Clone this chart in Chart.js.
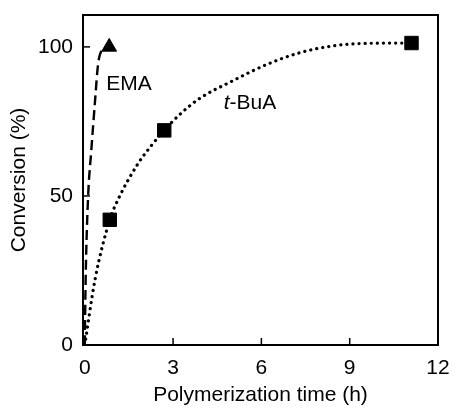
<!DOCTYPE html>
<html><head><meta charset="utf-8">
<script src="https://cdn.jsdelivr.net/npm/chart.js@4/dist/chart.umd.min.js"></script>
<style>html,body{margin:0;padding:0;background:#fff}#wrap{width:457px;height:412px}</style>
</head><body><div id="wrap"><canvas id="c"></canvas></div>
<script>
// Data
const xTicks = [0, 3, 6, 9, 12];
const yTicks = [0, 50, 100];
const emaTime = [0.83];
const emaConv = [100];
const emaCurveTime = [0, 0.03, 0.11, 0.22, 0.35, 0.45, 0.56, 0.83];
const emaCurveConv = [0, 22, 49, 65, 82, 94, 98.5, 100];
const buaTime = [0.85, 2.7, 11.1];
const buaConv = [42, 72, 101.3];
const buaCurveTime = [0, 0.35, 0.85, 1.14, 1.82, 2.27, 2.7, 3.19, 3.87, 5.0, 6.16, 7.29, 8.41, 9.57, 11.1];
const buaCurveConv = [0, 22, 42, 49, 61, 67, 72, 77, 82.5, 88.5, 94, 98, 100.3, 101.2, 101.3];
const seriesLabels = ['EMA', 't-BuA'];

const pts = (xs, ys) => xs.map((x, i) => ({x, y: ys[i]}));
const FONT = 'Liberation Sans, Arial, sans-serif';
const FS = 21;

const framePlugin = {
  id: 'frame',
  afterDraw(chart) {
    const {ctx, chartArea: a, scales} = chart;
    ctx.save();
    ctx.strokeStyle = '#000';
    ctx.lineWidth = 2;
    ctx.strokeRect(a.left, a.top, a.right - a.left, a.bottom - a.top);
    ctx.lineWidth = 1.5;
    xTicks.forEach(v => {
      const px = scales.x.getPixelForValue(v);
      if (px > a.left + 3 && px < a.right - 3) {
        ctx.beginPath(); ctx.moveTo(px, a.bottom); ctx.lineTo(px, a.bottom - 7); ctx.stroke();
      }
    });
    yTicks.forEach(v => {
      const py = scales.y.getPixelForValue(v);
      if (py < a.bottom - 3) {
        ctx.beginPath(); ctx.moveTo(a.left, py); ctx.lineTo(a.left + 7, py); ctx.stroke();
      }
    });
    // series labels
    ctx.fillStyle = '#000';
    ctx.textBaseline = 'middle';
    ctx.textAlign = 'left';
    ctx.font = FS + 'px ' + FONT;
    ctx.fillText(seriesLabels[0], scales.x.getPixelForValue(0.73), scales.y.getPixelForValue(87.4));
    const x0 = scales.x.getPixelForValue(4.72), y0 = scales.y.getPixelForValue(81);
    ctx.font = 'italic ' + FS + 'px ' + FONT;
    ctx.fillText('t', x0, y0);
    const w = ctx.measureText('t').width;
    ctx.font = FS + 'px ' + FONT;
    ctx.fillText('-BuA', x0 + w, y0);
    ctx.restore();
  }
};

new Chart(document.getElementById('c'), {
  type: 'scatter',
  data: {
    datasets: [
      {data: pts(emaCurveTime, emaCurveConv), showLine: true, pointRadius: 0, borderColor: '#000',
       borderWidth: 2.4, borderDash: [10, 5], cubicInterpolationMode: 'monotone', fill: false},
      {data: pts(buaCurveTime, buaCurveConv), showLine: true, pointRadius: 0, borderColor: '#000',
       borderWidth: 3.2, borderDash: [0.1, 6], borderCapStyle: 'round', cubicInterpolationMode: 'monotone', fill: false},
      {data: pts(emaTime, emaConv), pointStyle: 'triangle', pointRadius: 8.5, backgroundColor: '#000', borderColor: '#000', borderWidth: 1},
      {data: pts(buaTime, buaConv), pointStyle: 'rect', pointRadius: 9.5, backgroundColor: '#000', borderColor: '#000', borderWidth: 1}
    ]
  },
  options: {
    responsive: true, maintainAspectRatio: false, animation: false,
    layout: {padding: {top: 15, right: 19, left: 0, bottom: 0}},
    plugins: {legend: {display: false}, tooltip: {enabled: false}},
    scales: {
      x: {
        type: 'linear', min: -0.06, max: 12,
        afterBuildTicks: s => { s.ticks = xTicks.map(v => ({value: v})); },
        afterFit: s => { s.height = 67; s.paddingLeft = 0; s.paddingRight = 0; },
        ticks: {color: '#000', font: {family: FONT, size: FS}, padding: 11, callback: v => String(v), maxRotation: 0},
        grid: {display: false, drawTicks: false}, border: {display: false},
        title: {display: true, text: 'Polymerization time (h)', color: '#000', font: {family: FONT, size: FS}, padding: {top: 2, bottom: 4}}
      },
      y: {
        type: 'linear', min: 0, max: 110.7,
        afterBuildTicks: s => { s.ticks = yTicks.map(v => ({value: v})); },
        afterFit: s => { s.width = 83; s.paddingTop = 0; s.paddingBottom = 0; },
        ticks: {color: '#000', font: {family: FONT, size: FS}, padding: 10, callback: v => String(v)},
        grid: {display: false, drawTicks: false}, border: {display: false},
        title: {display: true, text: 'Conversion (%)', color: '#000', font: {family: FONT, size: FS}, padding: {top: 7, bottom: 4}}
      }
    }
  },
  plugins: [framePlugin]
});
</script>
</body></html>
